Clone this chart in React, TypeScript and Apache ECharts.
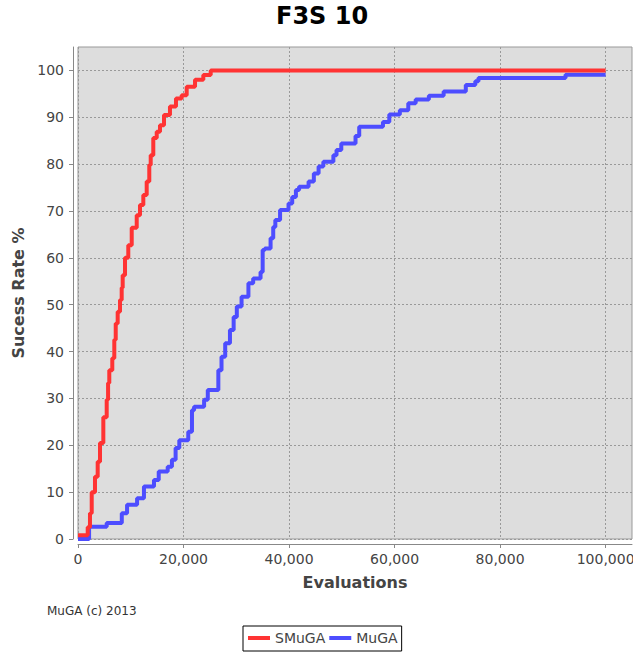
import React, { useEffect, useRef } from 'react';
import * as echarts from 'echarts';

const chartTitle = 'F3S 10';
const footnote = 'MuGA (c) 2013';
const xName = 'Evaluations';
const yName = 'Sucess Rate %';
const seriesNames = ['SMuGA', 'MuGA'];

const xTicks = [0, 20000, 40000, 60000, 80000, 100000];
const yTicks = [0, 10, 20, 30, 40, 50, 60, 70, 80, 90, 100];

const smugaX = [0, 1840, 2270, 2600, 3220, 3730, 4170, 4800, 5440, 5700, 5930, 6500, 6880, 7150, 7520, 7960, 8280, 8470, 8910, 9530, 10180, 11130, 11750, 12380, 13020, 13510, 13780, 14270, 14920, 15540, 16300, 17430, 18570, 19650, 20600, 22180, 23750, 25150, 100000];
const smugaY = [0.8, 2.5, 5.5, 10, 13.3, 16.5, 20.5, 26, 29.7, 33.3, 36, 38.6, 42.5, 46, 48.5, 51, 53.6, 56.3, 60, 62.7, 66.4, 69.1, 71.3, 73.4, 76.3, 79.8, 81.9, 85.6, 86.9, 88.3, 90.5, 92.3, 94, 94.7, 96.5, 98, 99, 100, 100];

const mugaX = [0, 2100, 5440, 8300, 9300, 11200, 12500, 14400, 15300, 17000, 17800, 18500, 19200, 20900, 21600, 22000, 23900, 24600, 26600, 27200, 27900, 28800, 29500, 30100, 31000, 32300, 33200, 34600, 35000, 35400, 36500, 37000, 37400, 38300, 39900, 40600, 41300, 41900, 43700, 44700, 45600, 46500, 48400, 49000, 49900, 52600, 53300, 57800, 59000, 61000, 62600, 64000, 66500, 69300, 73500, 75300, 75900, 92400, 100000];
const mugaY = [0, 2.6, 3.4, 5.5, 7.3, 8.7, 11.2, 12.6, 14.4, 15.4, 16.9, 19.4, 21.1, 22.9, 27.5, 28.2, 29.7, 31.8, 36, 38.9, 41.8, 44.6, 47.4, 49.6, 51.7, 54.6, 55.6, 57, 61.7, 62, 64.2, 66.6, 68.1, 70.2, 71.6, 73, 74.5, 75.2, 76.3, 78, 79.5, 80.5, 81.9, 83, 84.4, 86, 88, 89, 90.6, 91.5, 93, 93.8, 94.6, 95.5, 96.9, 97.7, 98.4, 99.1, 99.1];

const FONT = 'DejaVu Sans';
const RED = '#ff3333';
const BLUE = '#4d4dff';

function fmtThousands(v: number): string {
  return String(Math.round(v)).replace(/\B(?=(\d{3})+(?!\d))/g, ',');
}

export default function App() {
  const ref = useRef<HTMLDivElement>(null);
  useEffect(() => {
    const chart = echarts.init(ref.current!, null, { renderer: 'svg' });
    chart.setOption({
      animation: false,
      backgroundColor: '#ffffff',
      textStyle: { fontFamily: FONT },
      title: {
        text: chartTitle,
        left: 276,
        top: 4,
        padding: 0,
        textStyle: { fontSize: 24, fontWeight: 'bold', color: '#000', fontFamily: FONT },
      },
      graphic: [
        {
          type: 'text',
          left: 47,
          top: 605,
          silent: true,
          style: { text: footnote, fontSize: 12, fill: '#333', fontFamily: FONT },
        },
      ],
      legend: {
        data: seriesNames,
        left: 243,
        top: 626,
        orient: 'horizontal',
        borderColor: '#000',
        borderWidth: 1,
        borderRadius: 0,
        backgroundColor: '#fff',
        padding: [5, 4, 6, 5],
        itemGap: 4,
        itemWidth: 22,
        itemHeight: 4,
        icon: 'rect',
        selectedMode: false,
        textStyle: { fontSize: 14, color: '#444', fontFamily: FONT },
      },
      grid: {
        left: 78,
        top: 47,
        width: 554,
        height: 492,
        show: true,
        backgroundColor: '#dddddd',
        borderColor: '#999',
        borderWidth: 1,
        containLabel: false,
        outerBoundsMode: 'none',
      },
      xAxis: {
        type: 'value',
        min: 0,
        max: 105000,
        interval: 20000,
        offset: 5,
        axisLine: { show: true, onZero: false, lineStyle: { color: '#888', width: 1 } },
        axisTick: { show: true, length: 4, lineStyle: { color: '#888' }, customValues: xTicks },
        axisLabel: {
          customValues: xTicks,
          margin: 8,
          fontSize: 14,
          color: '#444',
          fontFamily: FONT,
          formatter: (v: number) => (xTicks.indexOf(v) >= 0 ? fmtThousands(v) : ''),
        },
        splitLine: { show: true, lineStyle: { color: '#999', type: [2, 2], width: 1 } },
        name: xName,
        nameLocation: 'middle',
        nameGap: 30,
        nameTextStyle: { fontSize: 16, fontWeight: 'bold', color: '#444', fontFamily: FONT },
      },
      yAxis: {
        type: 'value',
        min: 0,
        max: 105,
        interval: 10,
        offset: 5,
        axisLine: { show: true, onZero: false, lineStyle: { color: '#888', width: 1 } },
        axisTick: { show: true, length: 4, lineStyle: { color: '#888' }, customValues: yTicks },
        axisLabel: {
          customValues: yTicks,
          margin: 9,
          fontSize: 14,
          color: '#444',
          fontFamily: FONT,
          formatter: (v: number) => (yTicks.indexOf(v) >= 0 ? String(v) : ''),
        },
        splitLine: { show: true, lineStyle: { color: '#999', type: [2, 2], width: 1 } },
        name: yName,
        nameLocation: 'middle',
        nameRotate: 90,
        nameGap: 39,
        nameTextStyle: { fontSize: 16, fontWeight: 'bold', color: '#444', fontFamily: FONT },
      },
      series: [
        {
          name: 'SMuGA',
          type: 'line',
          step: 'end',
          showSymbol: false,
          silent: true,
          z: 3,
          data: smugaX.map((x, i) => [x, smugaY[i]]),
          lineStyle: { width: 4, color: RED },
          itemStyle: { color: RED },
        },
        {
          name: 'MuGA',
          type: 'line',
          step: 'end',
          showSymbol: false,
          silent: true,
          z: 2,
          data: mugaX.map((x, i) => [x, mugaY[i]]),
          lineStyle: { width: 4, color: BLUE },
          itemStyle: { color: BLUE },
        },
      ],
    });
    return () => chart.dispose();
  }, []);
  return (
    <div
      ref={ref}
      style={{ position: 'fixed', left: 0, top: 0, width: 633, height: 652, background: '#fff' }}
    />
  );
}
